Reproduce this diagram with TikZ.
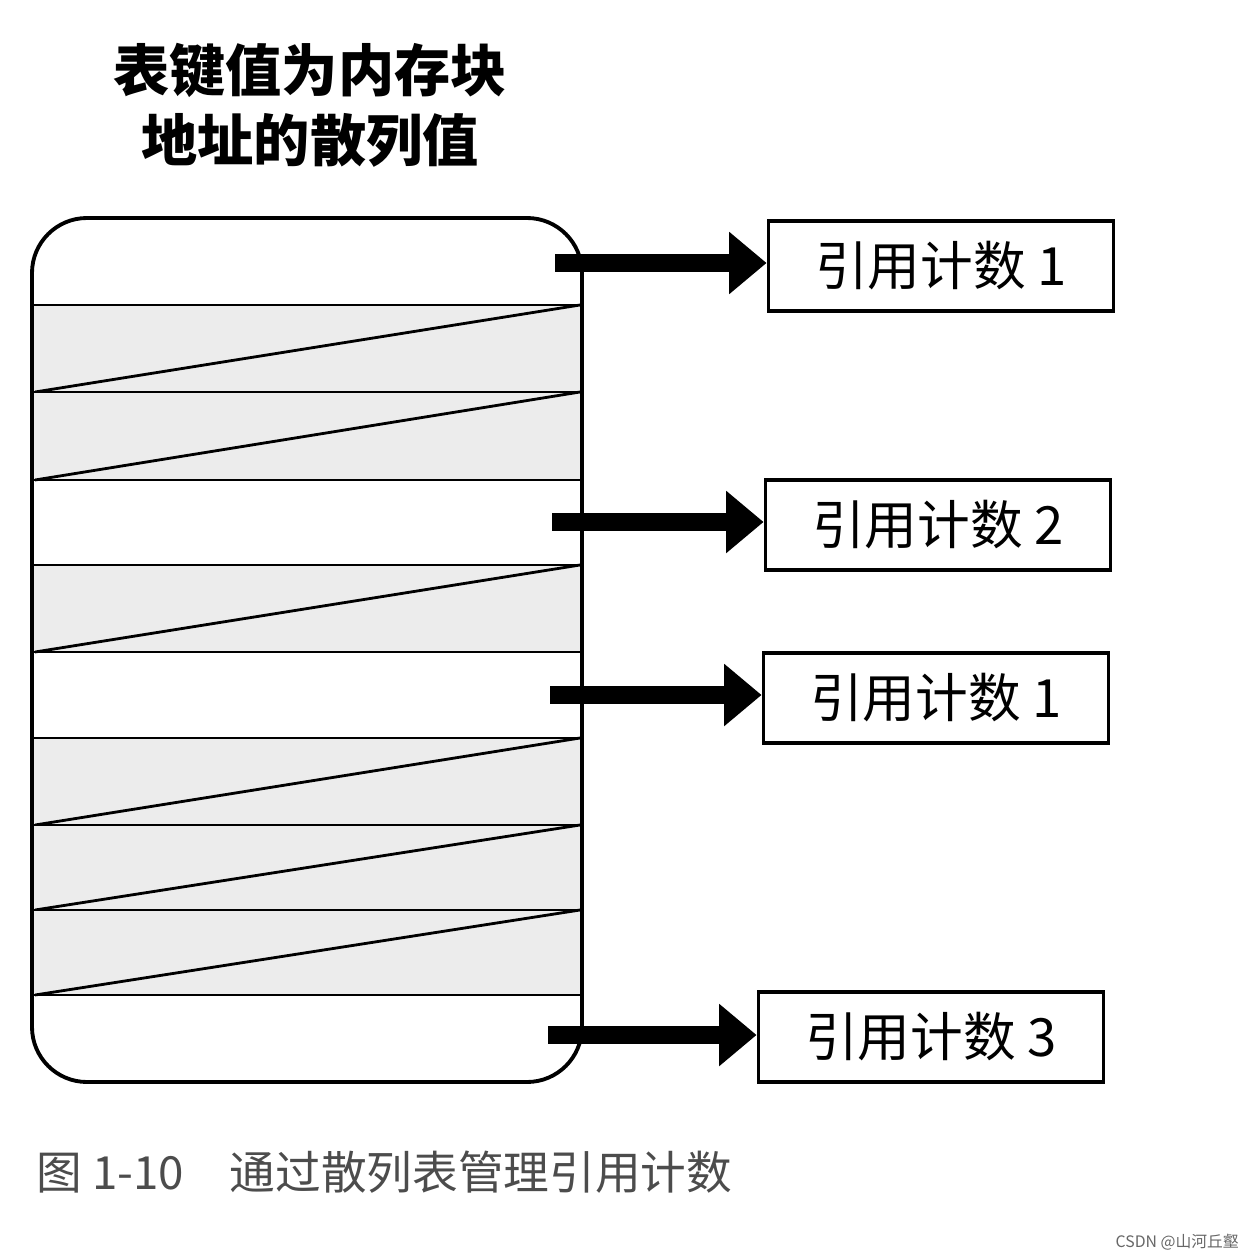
\documentclass[tikz,border=0pt]{standalone}
\usepackage{fontspec}
\newfontfamily\cjk{Noto Sans CJK SC}
\usetikzlibrary{arrows.meta,positioning}
\tikzset{
  countbox/.style={draw,line width=2.2pt,minimum width=6.9cm,minimum height=1.8cm,inner sep=0pt,font=\cjk\fontsize{30}{30}\selectfont},
  bigarrow/.style={line width=0.36cm,-{Triangle[length=0.75cm,width=1.2cm]}}
}
\begin{document}
\begin{tikzpicture}[x=0.02cm,y=-0.02cm]
\useasboundingbox (0,0) rectangle (1258,1260);
% title
\node (title) at (310,105) [align=center,font=\cjk\bfseries\fontsize{32}{40}\selectfont]
  {表键值为内存块\\地址的散列值};
% gray rows of the hash table
\foreach \ya/\yb in {305/392,392/480,565/652,738/825,825/910,910/995}{
  \fill[gray!15] (32,\ya) rectangle (580,\yb);
  \draw[line width=1.6pt] (35,\yb) -- (580,\ya);
}
\foreach \y in {305,392,480,565,652,738,825,910,995}
  \draw[line width=1.6pt] (32,\y) -- (580,\y);
\draw[line width=2.2pt,rounded corners=1.1cm] (32,218) rectangle (582,1082);
% reference counts
\node[countbox] (c1) at (941,266) {引用计数 1};
\node[countbox] (c2) at (938,525) {引用计数 2};
\node[countbox] (c3) at (936,698) {引用计数 1};
\node[countbox] (c4) at (931,1037) {引用计数 3};
\coordinate (r1) at (555,263);
\coordinate (r4) at (552,522);
\coordinate (r6) at (550,695);
\coordinate (r10) at (548,1035);
\draw[bigarrow] (r1) -- (r1 -| c1.west);
\draw[bigarrow] (r4) -- (r4 -| c2.west);
\draw[bigarrow] (r6) -- (r6 -| c3.west);
\draw[bigarrow] (r10) -- (r10 -| c4.west);
% caption
\node (caption) at (30,1172) [anchor=west,text=black!70,font=\cjk\fontsize{26}{30}\selectfont]
  {图 1-10\quad 通过散列表管理引用计数};
\node (mark) at (1245,1242) [anchor=east,text=black!60,font=\cjk\fontsize{9}{10}\selectfont]
  {CSDN @山河丘壑};
\end{tikzpicture}
\end{document}
